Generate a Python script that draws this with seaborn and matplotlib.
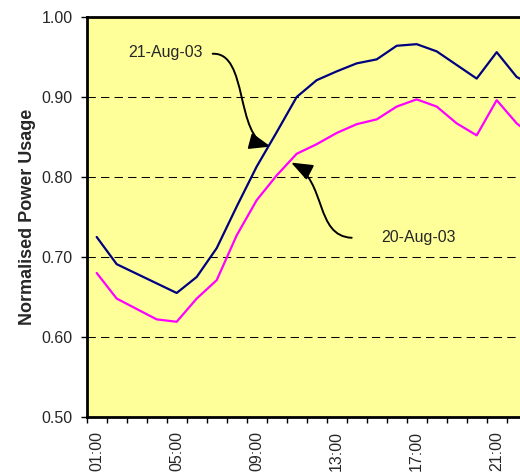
import numpy as np
import pandas as pd
import seaborn as sns
import matplotlib.pyplot as plt
from matplotlib.patches import FancyArrowPatch
from matplotlib.path import Path
from matplotlib.ticker import FixedLocator, FormatStrFormatter

# hourly normalised usage (01:00 .. 23:00)
hours = list(range(1, 24))
aug21 = [0.725, 0.691, 0.679, 0.667, 0.655, 0.675, 0.711, 0.763, 0.813, 0.856,
         0.900, 0.921, 0.932, 0.942, 0.947, 0.964, 0.966, 0.957, 0.940, 0.923,
         0.956, 0.925, 0.912]
aug20 = [0.680, 0.648, 0.635, 0.622, 0.619, 0.648, 0.671, 0.727, 0.771, 0.802,
         0.829, 0.841, 0.855, 0.866, 0.872, 0.888, 0.897, 0.888, 0.867, 0.852,
         0.896, 0.867, 0.847]
tick_hours = [1, 5, 9, 13, 17, 21]
tick_labels = ["01:00", "05:00", "09:00", "13:00", "17:00", "21:00"]

df = pd.DataFrame({
    "hour": hours * 2,
    "usage": aug21 + aug20,
    "day": ["21-Aug-03"] * len(hours) + ["20-Aug-03"] * len(hours),
})

sns.set_style("white")
plt.rcParams["font.family"] = ["Liberation Sans", "DejaVu Sans"]

fig = plt.figure(figsize=(5.2, 4.74), dpi=100)
# plot area runs past the right edge, like the cropped original
ax = fig.add_axes([0.1667, 0.1203, 0.9231, 0.8439])
ax.set_facecolor("#FFFF99")

sns.lineplot(data=df, x="hour", y="usage", hue="day",
             palette={"21-Aug-03": "#000080", "20-Aug-03": "#FF00FF"},
             linewidth=1.6, legend=False, ax=ax)

ax.set_xlim(0.5, 24.5)
ax.set_ylim(0.5, 1.0)
ax.set_yticks(np.arange(0.5, 1.01, 0.1))
ax.yaxis.set_major_formatter(FormatStrFormatter("%.2f"))
ax.grid(axis="y", color="black", linestyle=(0, (8, 5)), linewidth=0.75)
ax.set_axisbelow(True)

ax.set_xticks(tick_hours)
ax.set_xticklabels(tick_labels, rotation=90)
ax.xaxis.set_minor_locator(FixedLocator(np.arange(0.5, 25, 1)))
ax.tick_params(axis="x", which="major", length=0, pad=10, labelsize=11.5)
ax.tick_params(axis="x", which="minor", length=4, width=1, direction="out",
               color="black", bottom=True)
ax.tick_params(axis="y", length=4, width=1, direction="out", color="black",
               left=True, labelsize=11.5, pad=6)

ax.set_xlabel("")
ax.set_ylabel("Normalised Power Usage", fontsize=13, fontweight="bold",
              labelpad=4)

for side in ["left", "top", "bottom", "right"]:
    ax.spines[side].set_color("black")
    ax.spines[side].set_linewidth(2)

# callouts
ax.text(4.42, 0.955, "21-Aug-03", fontsize=11.5, ha="center", va="center")
ax.text(17.1, 0.724, "20-Aug-03", fontsize=11.5, ha="center", va="center")

arrow21 = Path([(6.80, 0.954), (8.6, 0.956), (7.9, 0.850), (9.70, 0.838)],
               [Path.MOVETO, Path.CURVE4, Path.CURVE4, Path.CURVE4])
arrow20 = Path([(13.75, 0.724), (11.9, 0.726), (12.5, 0.795), (10.72, 0.818)],
               [Path.MOVETO, Path.CURVE4, Path.CURVE4, Path.CURVE4])
for p in [arrow21, arrow20]:
    ax.add_patch(FancyArrowPatch(path=p, transform=ax.transData,
                                 arrowstyle="-|>,head_length=1.3,head_width=0.5",
                                 mutation_scale=10, color="black", linewidth=1.4))

fig.savefig("out.png", dpi=100)
